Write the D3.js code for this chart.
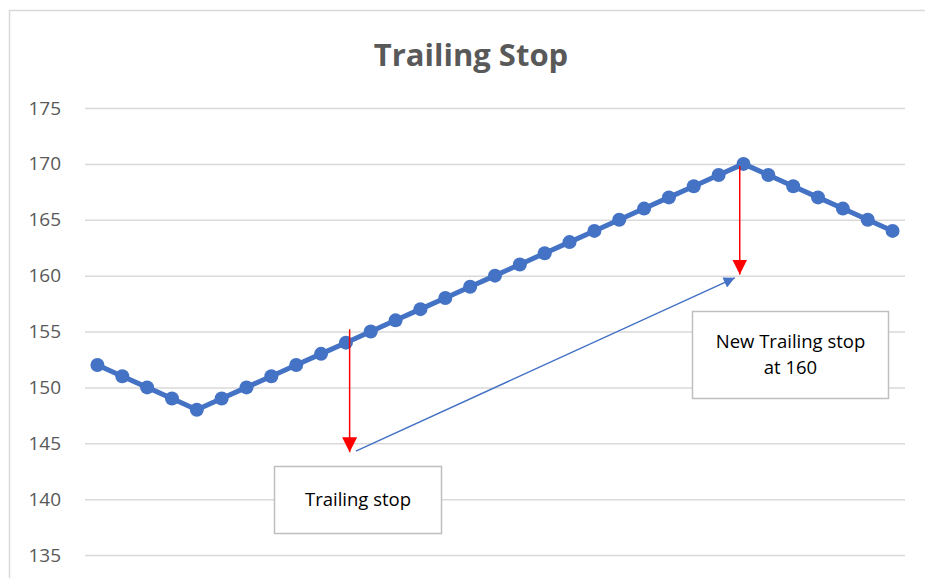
<!DOCTYPE html>
<html>
<head>
<meta charset="utf-8">
<script src="https://cdn.jsdelivr.net/npm/d3@7"></script>
<style>
  body { margin: 0; background: #fff; }
  text { font-family: "Open Sans", "Liberation Sans", sans-serif; }
</style>
</head>
<body>
<script>
const prices = [152, 151, 150, 149, 148, 149, 150, 151, 152, 153, 154, 155, 156, 157, 158, 159, 160,
  161, 162, 163, 164, 165, 166, 167, 168, 169, 170, 169, 168, 167, 166, 165, 164]
const days = prices.map((d, i) => i + 1)
const yTicks = [135, 140, 145, 150, 155, 160, 165, 170, 175]

// annotations, in day / price units
const firstStop = { day: 11.15, from: 155.2, to: 144.2 }
const newStop = { day: 26.85, from: 169.8, to: 160.1 }
const stopLink = { fromDay: 11.4, fromVal: 144.3, toDay: 26.65, toVal: 159.8 }

const w = 925
const h = 578
const svg = d3.select("body").append("svg").attr("width", w).attr("height", h)

svg.append("rect")
  .attr("x", 9.5).attr("y", 10.5)
  .attr("width", w + 10).attr("height", h + 10)
  .attr("fill", "#fff").attr("stroke", "#d9d9d9").attr("stroke-width", 1.5)

const xScale = d3.scalePoint().domain(days).range([85, 905]).padding(0.5)
const xLin = d3.scaleLinear().domain([1, days.length]).range([xScale(1), xScale(days.length)])
const yScale = d3.scaleLinear().domain([135, 175]).range([555, 108])

svg.append("text")
  .attr("x", 471).attr("y", 66)
  .attr("text-anchor", "middle")
  .attr("font-size", "31px").attr("font-weight", "bold")
  .attr("fill", "#595959")
  .text("Trailing Stop")

const yAxis = svg.append("g")
  .attr("transform", "translate(85,0)")
  .call(d3.axisLeft(yScale).tickValues(yTicks).tickSize(-820).tickPadding(24))
yAxis.select(".domain").remove()
yAxis.selectAll(".tick line").attr("stroke", "#d9d9d9").attr("stroke-width", 1.5)
yAxis.selectAll(".tick text")
  .attr("fill", "#595959").attr("font-size", "19px")
  .attr("font-family", "\"Open Sans\", sans-serif")

const line = d3.line().x((d, i) => xScale(days[i])).y((d) => yScale(d))
svg.append("path")
  .datum(prices)
  .attr("d", line)
  .attr("fill", "none").attr("stroke", "#4472c4").attr("stroke-width", 5)
  .attr("stroke-linejoin", "round")

svg.selectAll("circle.pt")
  .data(prices)
  .enter()
  .append("circle")
  .attr("class", "pt")
  .attr("cx", (d, i) => xScale(days[i]))
  .attr("cy", (d) => yScale(d))
  .attr("r", 7)
  .attr("fill", "#4472c4")

const defs = svg.append("defs")
defs.append("marker").attr("id", "redHead")
  .attr("viewBox", "0 0 10 10").attr("refX", 10).attr("refY", 5)
  .attr("markerWidth", 15).attr("markerHeight", 15)
  .attr("markerUnits", "userSpaceOnUse").attr("orient", "auto")
  .append("path").attr("d", "M0,0 L10,5 L0,10 Z").attr("fill", "#ff0000")
defs.append("marker").attr("id", "blueHead")
  .attr("viewBox", "0 0 10 10").attr("refX", 10).attr("refY", 5)
  .attr("markerWidth", 14).attr("markerHeight", 11)
  .attr("markerUnits", "userSpaceOnUse").attr("orient", "auto")
  .append("path").attr("d", "M0,0 L10,5 L0,10 Z").attr("fill", "#4472c4")

function redArrow(a) {
  svg.append("line")
    .attr("x1", xLin(a.day)).attr("x2", xLin(a.day))
    .attr("y1", yScale(a.from)).attr("y2", yScale(a.to))
    .attr("stroke", "#ff0000").attr("stroke-width", 1.5)
    .attr("marker-end", "url(#redHead)")
}
redArrow(firstStop)
redArrow(newStop)

svg.append("line")
  .attr("x1", xLin(stopLink.fromDay)).attr("y1", yScale(stopLink.fromVal))
  .attr("x2", xLin(stopLink.toDay)).attr("y2", yScale(stopLink.toVal))
  .attr("stroke", "#4472c4").attr("stroke-width", 1.5)
  .attr("marker-end", "url(#blueHead)")

function box(x, y, bw, bh, lines) {
  svg.append("rect")
    .attr("x", x).attr("y", y).attr("width", bw).attr("height", bh)
    .attr("fill", "#fff").attr("stroke", "#bfbfbf").attr("stroke-width", 1.5)
  const t = svg.append("text")
    .attr("text-anchor", "middle").attr("font-size", "18.5px").attr("fill", "#000")
  lines.forEach((s, i) => {
    t.append("tspan")
      .attr("x", x + bw / 2)
      .attr("y", y + bh / 2 + 6 + (i - (lines.length - 1) / 2) * 26)
      .text(s)
  })
}
box(274.5, 466.5, 167, 67, ["Trailing stop"])
box(692.5, 311.5, 196, 87, ["New Trailing stop", "at 160"])
</script>
</body>
</html>
